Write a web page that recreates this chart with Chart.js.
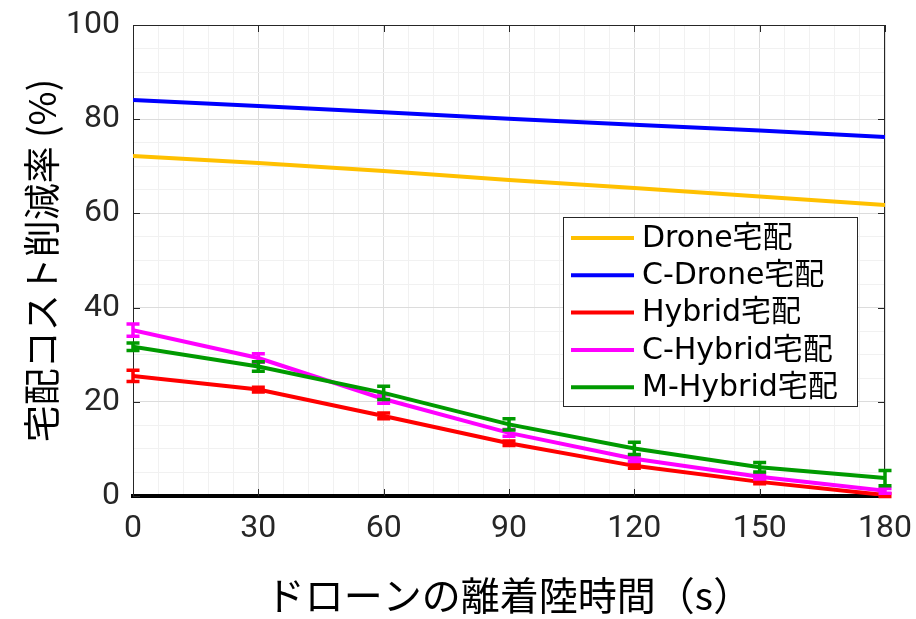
<!DOCTYPE html>
<html>
<head>
<meta charset="utf-8">
<script src="https://cdn.jsdelivr.net/npm/chart.js@4/dist/chart.umd.min.js"></script>
<style>
  html, body { margin: 0; padding: 0; background: #ffffff; }
  #wrap { width: 916px; height: 619px; }
</style>
</head>
<body>
<div id="wrap"><canvas id="c" width="916" height="619"></canvas></div>
<script>
// Landing/take-off time of the drone (s)
const delays = [0, 30, 60, 90, 120, 150, 180];

// Delivery cost reduction rate (%) per delivery scheme
const droneRate   = [72.2, 70.7, 69.0, 67.1, 65.4, 63.6, 61.8];
const cDroneRate  = [84.1, 82.8, 81.5, 80.1, 78.8, 77.6, 76.2];
const hybridRate  = [25.5, 22.6, 17.0, 11.2, 6.4, 3.0, 0.2];
const cHybridRate = [35.2, 29.3, 20.6, 13.4, 7.9, 4.1, 1.1];
const mHybridRate = [31.7, 27.5, 21.9, 15.2, 10.1, 6.1, 3.8];

// Half-widths of the error bars (%)
const hybridErr  = [1.2, 0.5, 0.6, 0.5, 0.5, 0.4, 0.3];
const cHybridErr = [1.3, 0.9, 0.9, 0.7, 0.6, 0.5, 0.5];
const mHybridErr = [0.8, 1.0, 1.4, 1.2, 1.3, 1.0, 1.6];

const seriesLabels = ['Drone宅配', 'C-Drone宅配', 'Hybrid宅配', 'C-Hybrid宅配', 'M-Hybrid宅配'];
const seriesColors = ['#FFC000', '#0000FF', '#FF0000', '#FF00FF', '#009A00'];
const seriesValues = [droneRate, cDroneRate, hybridRate, cHybridRate, mHybridRate];
const seriesErrors = [null, null, hybridErr, cHybridErr, mHybridErr];

const axisInk = '#262626';
const majorGrid = '#dcdcdc';
const minorGrid = '#f1f1f1';

const datasets = seriesValues.map((vals, i) => ({
  label: seriesLabels[i],
  data: delays.map((d, k) => ({ x: d, y: vals[k] })),
  borderColor: seriesColors[i],
  backgroundColor: seriesColors[i],
  borderWidth: 4,
  pointRadius: 0,
  pointHoverRadius: 0,
  tension: 0,
  fill: false,
  errors: seriesErrors[i],
  order: seriesValues.length - i   // later series are painted on top
}));

// Vertical error bars with caps, drawn right after each line
const errorBars = {
  id: 'errorBars',
  afterDatasetDraw(chart, args) {
    const ds = chart.data.datasets[args.index];
    if (!ds.errors) return;
    const { ctx, scales: { x, y } } = chart;
    ctx.save();
    ctx.strokeStyle = ds.borderColor;
    ctx.lineWidth = 3.5;
    ctx.lineCap = 'butt';
    const cap = 6.5;
    ds.data.forEach((p, k) => {
      const e = ds.errors[k];
      const px = x.getPixelForValue(p.x);
      const top = y.getPixelForValue(p.y + e);
      const bot = y.getPixelForValue(p.y - e);
      ctx.beginPath();
      ctx.moveTo(px, top); ctx.lineTo(px, bot);
      ctx.moveTo(px - cap, top); ctx.lineTo(px + cap, top);
      ctx.moveTo(px - cap, bot); ctx.lineTo(px + cap, bot);
      ctx.stroke();
    });
    ctx.restore();
  }
};

// Axes box (top / right edges) and inward major tick marks
const axesBox = {
  id: 'axesBox',
  beforeDatasetsDraw(chart) {
    const { ctx, chartArea: a, scales: { x, y } } = chart;
    ctx.save();
    ctx.strokeStyle = axisInk;
    ctx.lineWidth = 1;
    ctx.beginPath();
    ctx.moveTo(a.left, a.top + 0.5); ctx.lineTo(a.right, a.top + 0.5);
    ctx.moveTo(a.right - 0.5, a.top); ctx.lineTo(a.right - 0.5, a.bottom);
    x.ticks.forEach(t => {
      if (t.value % 30 !== 0) return;
      const px = Math.round(x.getPixelForValue(t.value)) + 0.5;
      ctx.moveTo(px, a.bottom); ctx.lineTo(px, a.bottom - 7);
      ctx.moveTo(px, a.top); ctx.lineTo(px, a.top + 7);
    });
    y.ticks.forEach(t => {
      if (t.value % 20 !== 0) return;
      const py = Math.round(y.getPixelForValue(t.value)) + 0.5;
      ctx.moveTo(a.left, py); ctx.lineTo(a.left + 7, py);
      ctx.moveTo(a.right, py); ctx.lineTo(a.right - 7, py);
    });
    ctx.stroke();
    ctx.restore();
  }
};

// Boxed legend inside the plot area
const boxLegend = {
  id: 'boxLegend',
  afterDraw(chart) {
    const { ctx, chartArea: a } = chart;
    const boxW = 295, boxH = 190, rowH = 37.3;
    const left = a.right - 27 - boxW;
    const top = a.top + 192;
    ctx.save();
    ctx.fillStyle = '#ffffff';
    ctx.fillRect(left, top, boxW, boxH);
    ctx.strokeStyle = axisInk;
    ctx.lineWidth = 1;
    ctx.strokeRect(left + 0.5, top + 0.5, boxW - 1, boxH - 1);
    ctx.font = '30px "DejaVu Sans", "Noto Sans CJK JP"';
    ctx.textBaseline = 'middle';
    ctx.fillStyle = '#000000';
    chart.data.datasets.forEach((ds, i) => {
      const cy = top + 21 + i * rowH;
      ctx.strokeStyle = ds.borderColor;
      ctx.lineWidth = 4;
      ctx.beginPath();
      ctx.moveTo(left + 8, cy); ctx.lineTo(left + 71, cy);
      ctx.stroke();
      ctx.fillText(ds.label, left + 79, cy + 1);
    });
    ctx.restore();
  }
};

new Chart(document.getElementById('c'), {
  type: 'line',
  data: { datasets },
  plugins: [errorBars, axesBox, boxLegend],
  options: {
    responsive: false,
    animation: false,
    devicePixelRatio: 1,
    layout: { padding: { top: 25, right: 31, left: 0, bottom: 0 } },
    plugins: { legend: { display: false }, tooltip: { enabled: false } },
    scales: {
      x: {
        type: 'linear',
        min: 0, max: 180,
        afterFit(scale) {
          scale.height = 123;
          scale.paddingLeft = 0;
          scale.paddingRight = 0;
        },
        ticks: {
          stepSize: 6,
          autoSkip: false,
          maxRotation: 0,
          padding: 14,
          color: axisInk,
          font: { family: 'Roboto', size: 32 },
          callback: v => (v % 30 === 0 ? String(v) : '')
        },
        grid: {
          drawTicks: false,
          color: c => (c.tick && c.tick.value % 30 === 0 ? majorGrid : minorGrid),
          lineWidth: 1
        },
        border: { display: true, color: '#000000', width: 4 },
        title: {
          display: true,
          text: 'ドローンの離着陸時間（s）',
          color: '#000000',
          font: { family: '"Noto Sans CJK JP"', size: 39 },
          padding: { top: 0, bottom: 0 }
        }
      },
      y: {
        type: 'linear',
        min: 0, max: 100,
        afterFit(scale) {
          scale.width = 133;
          scale.paddingTop = 0;
          scale.paddingBottom = 0;
        },
        ticks: {
          stepSize: 5,
          autoSkip: false,
          padding: 13,
          color: axisInk,
          font: { family: 'Roboto', size: 32 },
          callback: v => (v % 20 === 0 ? String(v) : '')
        },
        grid: {
          drawTicks: false,
          color: c => (c.tick && c.tick.value % 20 === 0 ? majorGrid : minorGrid),
          lineWidth: 1
        },
        border: { display: true, color: axisInk, width: 1 },
        title: {
          display: true,
          text: '宅配コスト削減率 (%)',
          color: '#000000',
          font: { family: '"Noto Sans CJK JP"', size: 37 },
          padding: { top: 20, bottom: 0 }
        }
      }
    }
  }
});
</script>
</body>
</html>
